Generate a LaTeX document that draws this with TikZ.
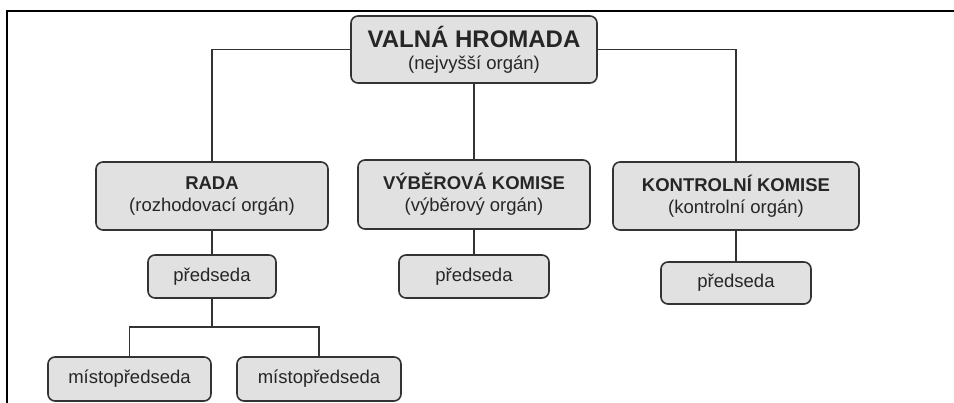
\documentclass[tikz,border=0pt]{standalone}
\usepackage{fontspec}
\setmainfont{Liberation Sans}
\definecolor{boxfill}{HTML}{E1E1E1}
\definecolor{boxline}{HTML}{333333}
\definecolor{txt}{HTML}{262626}
\tikzset{
  font={\fontsize{18.5pt}{22pt}\selectfont},
  organ/.style={draw=boxline, fill=boxfill, line width=1.6pt, rounded corners=7pt,
    align=center, text=txt, inner sep=0pt},
  spoj/.style={draw=boxline, line width=1.6pt}}

\begin{document}
\begin{tikzpicture}[x=1pt,y=-1pt]
\useasboundingbox (0,0) rectangle (954,403);
\draw [black, line width=2.4pt] (7,403) -- (7,11) -- (954,11);
\node [organ, minimum width=246pt, minimum height=67pt] (valna) at (474,49.5)
  {{\fontsize{24pt}{26pt}\selectfont\bfseries VALNÁ HROMADA}\\(nejvyšší orgán)};
\node [organ, minimum width=232pt, minimum height=68pt] (rada) at (212,196)
  {\textbf{RADA}\\(rozhodovací orgán)};
\node [organ, minimum width=232pt, minimum height=69pt] (vyber) at (474,194.5)
  {\textbf{VÝBĚROVÁ KOMISE}\\(výběrový orgán)};
\node [organ, minimum width=246pt, minimum height=68pt] (kontrol) at (736,196)
  {\textbf{KONTROLNÍ KOMISE}\\(kontrolní orgán)};
\node [organ, minimum width=128pt, minimum height=43pt] (predR) at (212,276.5) {předseda};
\node [organ, minimum width=150pt, minimum height=43pt] (predV) at (474,276.5) {předseda};
\node [organ, minimum width=150pt, minimum height=42pt] (predK) at (736,283) {předseda};
\node [organ, minimum width=163pt, minimum height=44pt] (mist1) at (129.5,379) {místopředseda};
\node [organ, minimum width=164pt, minimum height=44pt] (mist2) at (319,379) {místopředseda};
\coordinate (rozv) at (212,327);
\draw [spoj] (valna.west) -| (rada.north);
\draw [spoj] (valna.south) -- (vyber.north);
\draw [spoj] (valna.east) -| (kontrol.north);
\draw [spoj] (rada) -- (predR);
\draw [spoj] (vyber) -- (predV);
\draw [spoj] (kontrol) -- (predK);
\draw [spoj] (predR.south) -- (rozv);
\draw [spoj] (mist1.north) |- (rozv) -| (mist2.north);
\end{tikzpicture}
\end{document}
